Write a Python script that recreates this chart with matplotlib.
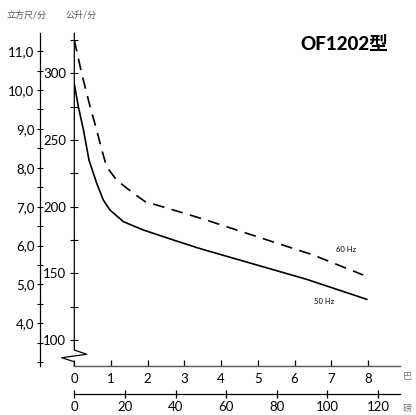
import matplotlib
matplotlib.use("Agg")
import matplotlib.pyplot as plt
from matplotlib.ticker import MultipleLocator, FixedLocator

plt.rcParams['font.family'] = ['Lato', 'Noto Sans CJK SC', 'DejaVu Sans']

# flow curves, x in bar, y in l/min
bar_50 = [0, 0.11, 0.25, 0.4, 0.61, 0.79, 0.97, 1.34, 1.88, 2.7, 3.43,
          6.33, 7.97]
lpm_50 = [292, 275, 257.5, 235, 217.5, 205, 197.5, 188.7, 182.5, 175,
          168.5, 145.5, 130.5]
bar_60 = [0, 0.2, 0.43, 0.61, 0.75, 0.88, 1.15, 1.61, 1.93, 2.7, 3.5,
          6.51, 7.87]
lpm_60 = [325, 300, 275, 257.5, 242.5, 230, 220, 210, 203.75, 197.5,
          190.8, 163.75, 148.75]

lpm_major = [100, 150, 200, 250, 300]
lpm_minor = [125, 175, 225, 275, 325]
cfm_major = [4, 5, 6, 7, 8, 9, 10, 11]
bar_ticks = list(range(0, 9))
psi_ticks = list(range(0, 121, 20))
PSI_PER_BAR = 14.5038

W, H = 416, 415
fig = plt.figure(figsize=(W / 100, H / 100), dpi=100)

# main axes (pixel layout from the reference)
left, right, top, bottom = 74.3, 400, 33.3, 366
ax = fig.add_axes([left / W, (H - bottom) / H, (right - left) / W,
                   (bottom - top) / H])
ax.set_xlim(0, (right - left) / 36.7)
ax.set_ylim(80.5, 330)
ax.patch.set_alpha(0)

ax.plot(bar_50, lpm_50, color='black', lw=1.2, solid_joinstyle='round')
ax.plot(bar_60, lpm_60, color='black', lw=1.2, dashes=(7, 4.5))

ax.text(7.40, 167.5, '60 Hz', fontsize=5.5, ha='center', va='center')
ax.text(6.80, 128.5, '50 Hz', fontsize=5.5, ha='center', va='center')

for s in ['top', 'right', 'left']:
    ax.spines[s].set_visible(False)
ax.spines['bottom'].set_color('#555555')
ax.spines['bottom'].set_linewidth(1.0)

# inner l/min axis with break
ax.plot([0, 0, 0.338, -0.343, 0, 0], [330, 92.5, 89.3, 86.7, 83.7, 80.5],
        color='black', lw=0.9, clip_on=False)
ax.yaxis.set_major_locator(FixedLocator(lpm_major))
ax.yaxis.set_minor_locator(FixedLocator(lpm_minor))
ax.tick_params(axis='y', which='both', direction='inout', length=5.5,
               width=0.8, labelsize=9.5, pad=3)

ax.xaxis.set_major_locator(FixedLocator(bar_ticks))
ax.tick_params(axis='x', direction='in', length=4.5, width=0.9,
               labelsize=9.5, pad=5, color='black')

# psi axis below
sec = ax.secondary_xaxis(-28 / (bottom - top),
                         functions=(lambda b: b * PSI_PER_BAR,
                                    lambda p: p / PSI_PER_BAR))
sec.set_xticks(psi_ticks)
sec.tick_params(direction='inout', length=5.5, width=0.9, labelsize=9.5,
                pad=2)
sec.spines['bottom'].set_linewidth(0.9)

# outer cfm axis
ax2 = fig.add_axes([40 / W, (H - bottom) / H, 0.01, (bottom - top) / H])
ax2.set_ylim(7 - (bottom - 206.7) / 38.9, 7 + (206.7 - top) / 38.9)
ax2.patch.set_alpha(0)
for s in ['top', 'right', 'bottom']:
    ax2.spines[s].set_visible(False)
ax2.spines['left'].set_linewidth(0.9)
ax2.set_xticks([])
ax2.yaxis.set_major_locator(FixedLocator(cfm_major))
ax2.yaxis.set_minor_locator(MultipleLocator(0.5))
ax2.set_yticklabels([f"{v},0" for v in cfm_major])
ax2.tick_params(axis='y', which='both', direction='inout', length=5,
                width=0.8, labelsize=9.5, pad=1.5)

# units and title
fig.text(27 / W, 1 - 15 / H, '立方尺/分', fontsize=6.5, color='#555555',
         ha='center', va='center')
fig.text(81 / W, 1 - 15 / H, '公升/分', fontsize=6.5, color='#555555',
         ha='center', va='center')
fig.text(407 / W, 1 - 376 / H, '巴', fontsize=6.5, color='#777777',
         ha='center', va='center')
fig.text(407 / W, 1 - 408 / H, '磅', fontsize=6.5, color='#777777',
         ha='center', va='center')
fig.text(388 / W, 1 - 44 / H, 'OF1202型', fontsize=13.5, weight='black',
         ha='right', va='center')

fig.savefig('out.png', dpi=100)
